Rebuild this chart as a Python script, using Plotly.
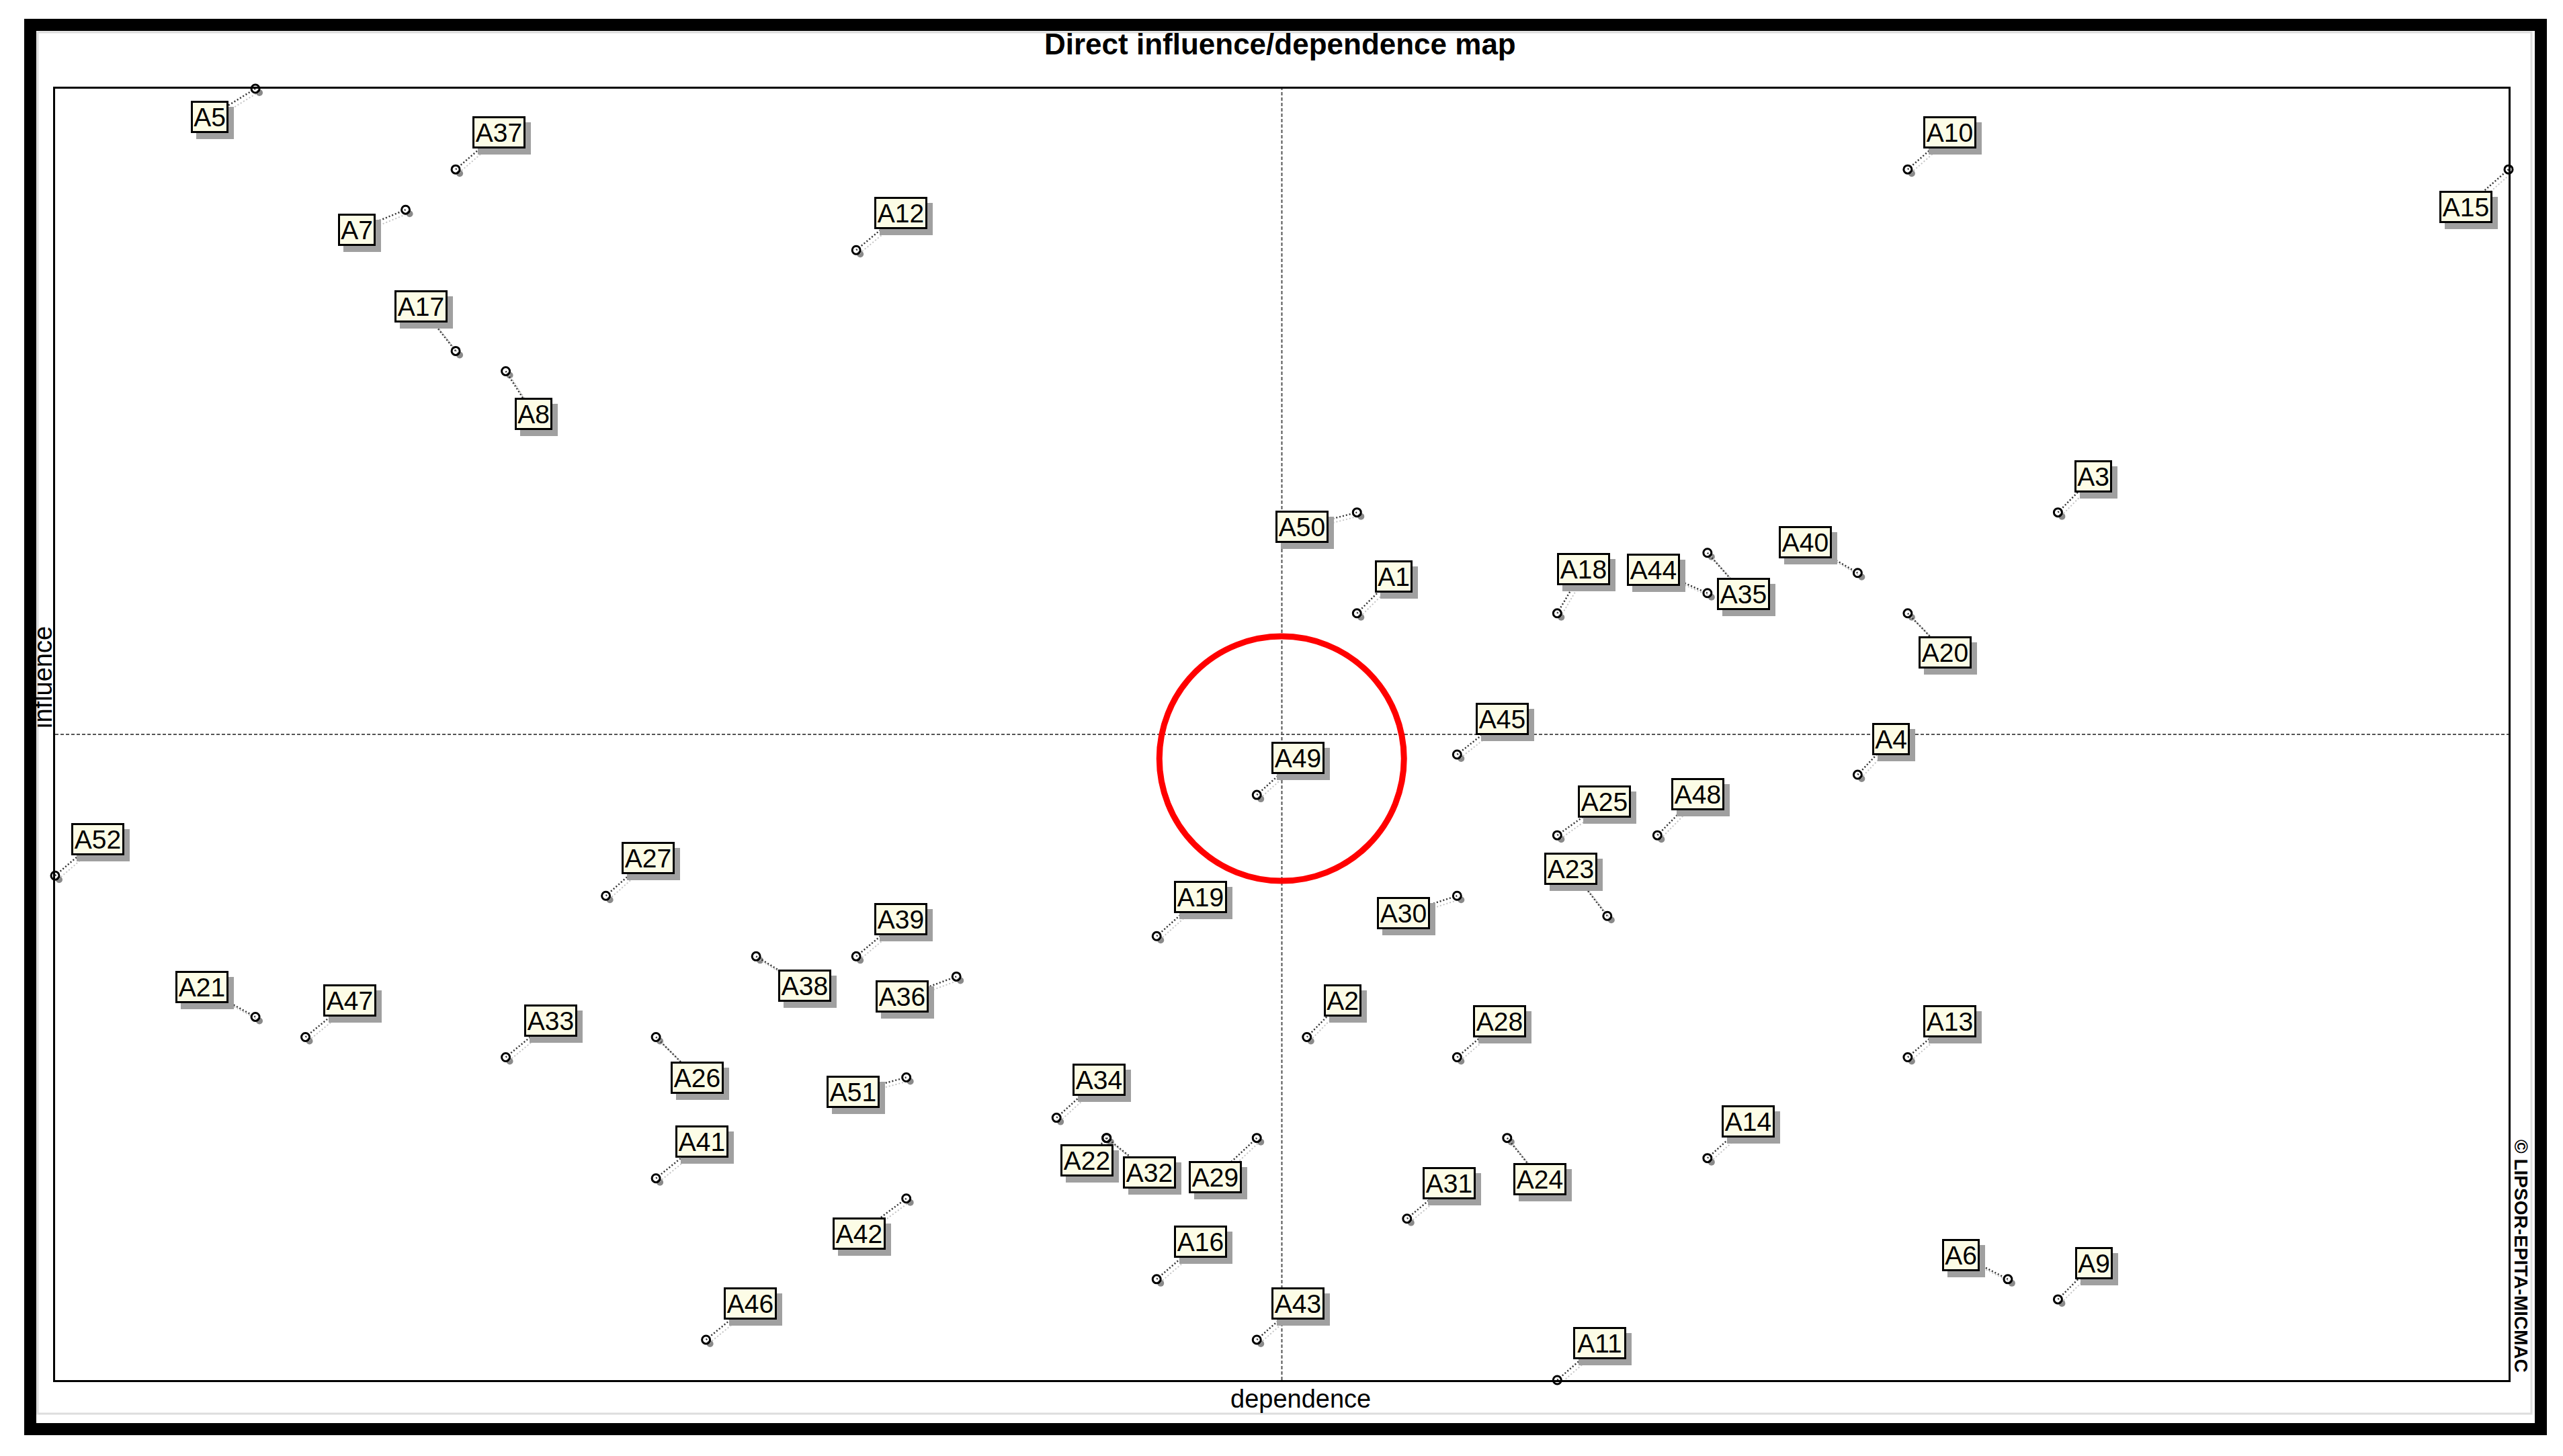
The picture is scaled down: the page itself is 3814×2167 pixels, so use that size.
import plotly.graph_objects as go

# variables of the MICMAC direct influence / dependence map
names = ["A%d" % i for i in range(1, 53)]

dependence = [46, 45, 60, 56, 24, 59, 27, 29, 60, 57,
              50, 36, 57, 53, 69, 42, 28, 50, 42, 57,
              24, 41, 51, 49, 50, 32, 31, 48, 44, 48,
              47, 41, 29, 40, 53, 38, 28, 34, 36, 56,
              32, 37, 44, 53, 48, 33, 25, 52, 44, 46,
              37, 20]

influence = [55, 34, 60, 47, 81, 22, 75, 67, 21, 77,
             17, 73, 33, 28, 77, 22, 68, 55, 39, 55,
             35, 29, 40, 29, 44, 34, 41, 33, 29, 41,
             25, 29, 33, 30, 58, 37, 77, 38, 38, 57,
             27, 26, 19, 56, 48, 19, 34, 44, 46, 60,
             32, 42]

highlighted = "A49"

# label box offsets from the point, in screen pixels (right, down)
label_offsets = {
    "A1": (55, -55), "A2": (53, -54), "A3": (53, -54), "A4": (50, -53),
    "A5": (-68, 42), "A6": (-70, -36), "A7": (-73, 30), "A8": (41, 64),
    "A9": (54, -54), "A10": (63, -55), "A11": (63, -55), "A12": (66, -55),
    "A13": (63, -54), "A14": (61, -55), "A15": (-64, 56), "A16": (65, -56),
    "A17": (-52, -66), "A18": (39, -66), "A19": (65, -58), "A20": (56, 58),
    "A21": (-80, -44), "A22": (-29, 33), "A23": (-54, -70), "A24": (49, 61),
    "A25": (70, -50), "A26": (61, 61), "A27": (63, -56), "A28": (63, -54),
    "A29": (-62, 58), "A30": (-80, 26), "A31": (63, -53), "A32": (64, 51),
    "A33": (67, -55), "A34": (63, -57), "A35": (54, 61), "A36": (-81, 30),
    "A37": (64, -55), "A38": (72, 44), "A39": (66, -55), "A40": (-78, -46),
    "A41": (68, -55), "A42": (-70, 52), "A43": (61, -54), "A44": (-80, -35),
    "A45": (67, -53), "A46": (66, -54), "A47": (66, -54), "A48": (60, -61),
    "A49": (61, -55), "A50": (-82, 21), "A51": (-79, 21), "A52": (63, -54),
}

W_FIG, H_FIG = 3814, 2167
OFF = 8  # page body margin of the browser
L, R, T, B = 82 - OFF, 81 + OFF, 132 - OFF, 113 + OFF
PW, PH = W_FIG - L - R, H_FIG - T - B


def paper_x(px):
    return (px - OFF - L) / PW


def paper_y(py):
    return (T + PH - (py - OFF)) / PH


font = "Liberation Sans, Arial, sans-serif"

fig = go.Figure()
fig.add_trace(go.Scatter(
    x=dependence, y=influence, mode="markers", text=names, hoverinfo="text",
    marker=dict(symbol="circle-open", size=12, color="black", line=dict(width=3)),
    cliponaxis=False, showlegend=False,
))

shapes = []
annotations = []

# middle lines of the map
x_mid = (min(dependence) + max(dependence)) / 2
y_mid = (min(influence) + max(influence)) / 2
dash_line = dict(color="#555555", width=2, dash="5px,3px")
shapes.append(dict(type="line", xref="x", yref="paper", x0=x_mid, x1=x_mid, y0=0, y1=1,
                   line=dash_line, layer="below"))
shapes.append(dict(type="line", xref="paper", yref="y", x0=0, x1=1, y0=y_mid, y1=y_mid,
                   line=dash_line, layer="below"))

for name, x, y in zip(names, dependence, influence):
    dx, dy = label_offsets[name]
    # grey shadow under the point and its leader
    shapes.append(dict(type="circle", xref="x", yref="y", xsizemode="pixel", ysizemode="pixel",
                       xanchor=x, yanchor=y, x0=1, x1=11, y0=-11, y1=-1,
                       fillcolor="#8a8a8a", line=dict(width=0), layer="below"))
    shapes.append(dict(type="line", xref="x", yref="y", xsizemode="pixel", ysizemode="pixel",
                       xanchor=x, yanchor=y, x0=5, y0=-5, x1=dx + 5, y1=-dy - 5,
                       line=dict(color="#c4c4c4", width=2, dash="2px,3px"), layer="below"))
    # dotted leader to the label
    shapes.append(dict(type="line", xref="x", yref="y", xsizemode="pixel", ysizemode="pixel",
                       xanchor=x, yanchor=y, x0=0, y0=0, x1=dx, y1=-dy,
                       line=dict(color="#333333", width=2.5, dash="2px,3px"), layer="below"))
    w = 50 if len(name) == 2 else 73
    # label shadow box (no text)
    annotations.append(dict(x=x, y=y, xref="x", yref="y", text="&nbsp;", showarrow=False,
                            xshift=dx + 8, yshift=-dy - 9, width=w, height=42,
                            bgcolor="#a0a0a0", bordercolor="#a0a0a0", borderwidth=3, borderpad=0,
                            font=dict(family=font, size=39, color="#a0a0a0")))
    annotations.append(dict(x=x, y=y, xref="x", yref="y", text=name, showarrow=False,
                            xshift=dx, yshift=-dy, width=w, height=42,
                            bgcolor="#fcfce6", bordercolor="black", borderwidth=3, borderpad=0,
                            font=dict(family=font, size=39, color="black")))

# red circle around the highlighted variable
hi = names.index(highlighted)
shapes.append(dict(type="circle", xref="x", yref="y", xsizemode="pixel", ysizemode="pixel",
                   xanchor=dependence[hi], yanchor=influence[hi],
                   x0=37 - 182, x1=37 + 182, y0=54 - 182, y1=54 + 182,
                   line=dict(color="#ff0000", width=9), layer="above"))

# window frame
shapes.append(dict(type="rect", xref="paper", yref="paper",
                   x0=paper_x(56), x1=paper_x(3767), y0=paper_y(2104), y1=paper_y(48),
                   line=dict(color="#dddddd", width=3), layer="below"))
shapes.append(dict(type="rect", xref="paper", yref="paper",
                   x0=paper_x(45), x1=paper_x(3781), y0=paper_y(2127), y1=paper_y(37),
                   line=dict(color="black", width=18), layer="above"))

centred = dict(xref="paper", yref="paper", showarrow=False, xanchor="center", yanchor="middle")
annotations.append(dict(x=paper_x(1905), y=paper_y(66),
                        text="<b>Direct influence/dependence map</b>",
                        font=dict(family=font, size=44, color="black"), **centred))
annotations.append(dict(x=paper_x(1936), y=paper_y(2082), text="dependence",
                        font=dict(family=font, size=38, color="black"), **centred))
annotations.append(dict(x=paper_x(64), y=paper_y(1008), text="influence", textangle=-90,
                        font=dict(family=font, size=38, color="black"), **centred))
annotations.append(dict(x=paper_x(3752), y=paper_y(1869), text="<b>© LIPSOR-EPITA-MICMAC</b>",
                        textangle=90, font=dict(family=font, size=28, color="black"), **centred))

axis_style = dict(showgrid=False, zeroline=False, showticklabels=False, ticks="",
                  showline=True, mirror=True, linecolor="black", linewidth=3)

fig.update_layout(
    width=W_FIG, height=H_FIG,
    margin=dict(l=L, r=R, t=T, b=B),
    paper_bgcolor="white", plot_bgcolor="white",
    xaxis=dict(range=[min(dependence), max(dependence)], **axis_style),
    yaxis=dict(range=[min(influence), max(influence)], **axis_style),
    shapes=shapes, annotations=annotations,
    showlegend=False,
)

fig.write_html("out.html")
